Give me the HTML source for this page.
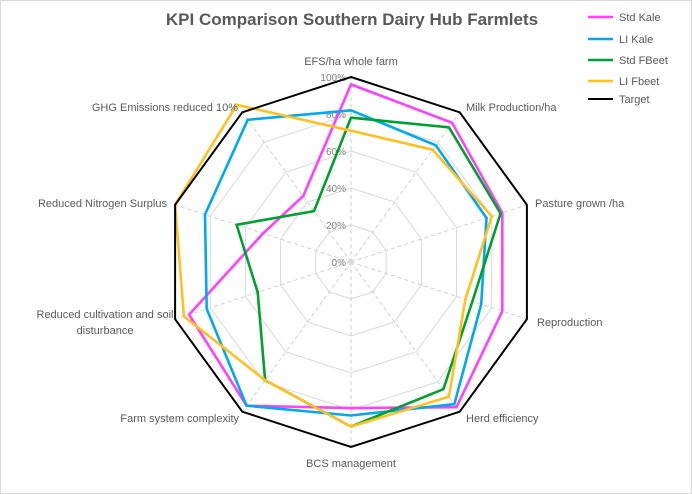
<!DOCTYPE html>
<html><head><meta charset="utf-8"><style>
body{margin:0;background:#fff}
svg{display:block;font-family:"Liberation Sans",sans-serif}
</style></head><body>
<svg width="692" height="494" viewBox="0 0 692 494" xmlns="http://www.w3.org/2000/svg">
<rect x="0.5" y="0.5" width="691" height="493" fill="#fff" stroke="#d9d9d9"/>
<text x="352" y="25" font-size="17" font-weight="bold" fill="#595959" text-anchor="middle">KPI Comparison Southern Dairy Hub Farmlets</text>
<g id="grid" fill="none" stroke="#d9d9d9" stroke-width="1"></g>
<g id="spokes" stroke="#d0d0d0" stroke-dasharray="4,3" stroke-width="1"></g>
<g font-size="10" fill="#808080" text-anchor="end">
<text x="346" y="266">0%</text><text x="346" y="229">20%</text><text x="346" y="192">40%</text><text x="346" y="155">60%</text><text x="346" y="118">80%</text><text x="346" y="81">100%</text>
</g>
<circle cx="351" cy="262" r="2.5" fill="#d9d9d9"/>
<g id="series" fill="none" stroke-width="2.6" stroke-linejoin="miter"></g>
<g font-size="11" fill="#595959">
<text x="351" y="65" text-anchor="middle">EFS/ha whole farm</text>
<text x="466" y="111">Milk Production/ha</text>
<text x="535" y="207">Pasture grown /ha</text>
<text x="537" y="326">Reproduction</text>
<text x="466" y="422">Herd efficiency</text>
<text x="351" y="467" text-anchor="middle">BCS management</text>
<text x="239" y="422" text-anchor="end">Farm system complexity</text>
<text x="105" y="318" text-anchor="middle">Reduced cultivation and soil</text>
<text x="105" y="334" text-anchor="middle">disturbance</text>
<text x="167" y="207" text-anchor="end">Reduced Nitrogen Surplus</text>
<text x="238" y="111" text-anchor="end">GHG Emissions reduced 10%</text>
</g>
<g font-size="11" fill="#595959">
<line x1="588" y1="17" x2="613" y2="17" stroke="#ff40ff" stroke-width="2.6"/><text x="619" y="21">Std Kale</text>
<line x1="588" y1="39" x2="613" y2="39" stroke="#00a8f0" stroke-width="2.6"/><text x="619" y="43">LI Kale</text>
<line x1="588" y1="60" x2="613" y2="60" stroke="#00a030" stroke-width="2.6"/><text x="619" y="64">Std FBeet</text>
<line x1="588" y1="81" x2="613" y2="81" stroke="#ffc020" stroke-width="2.6"/><text x="619" y="85">LI Fbeet</text>
<line x1="588" y1="99" x2="613" y2="99" stroke="#000" stroke-width="2"/><text x="619" y="103">Target</text>
</g>
<script>
var cx=351,cy=262,R=185,NS="http://www.w3.org/2000/svg";
function pts(v){return v.map(function(r,i){var a=i*Math.PI/5;return (cx+R*r*Math.sin(a)).toFixed(1)+","+(cy-R*r*Math.cos(a)).toFixed(1)}).join(" ");}
var g=document.getElementById("grid");
[0.2,0.4,0.6,0.8].forEach(function(r){var p=document.createElementNS(NS,"polygon");p.setAttribute("points",pts(Array(10).fill(r)));g.appendChild(p);});
var s=document.getElementById("spokes");
for(var i=0;i<10;i++){var a=i*Math.PI/5,l=document.createElementNS(NS,"line");l.setAttribute("x1",cx);l.setAttribute("y1",cy);l.setAttribute("x2",cx+R*Math.sin(a));l.setAttribute("y2",cy-R*Math.cos(a));s.appendChild(l);}
var data=[
["#ff40ff",[0.96,0.93,0.86,0.86,0.97,0.79,0.96,0.92,0.5,0.44]],
["#00a8f0",[0.82,0.78,0.77,0.74,0.95,0.83,0.96,0.82,0.83,0.95]],
["#00a030",[0.78,0.90,0.85,0.69,0.85,0.89,0.79,0.53,0.65,0.34]],
["#ffc020",[0.71,0.75,0.80,0.65,0.90,0.89,0.79,0.95,1.0,1.05]],
["#000000",[1,1,1,1,1,1,1,1,1,1]]];
var sg=document.getElementById("series");
data.forEach(function(d){var p=document.createElementNS(NS,"polygon");p.setAttribute("points",pts(d[1]));p.setAttribute("stroke",d[0]);if(d[0]=="#000000")p.setAttribute("stroke-width","2");sg.appendChild(p);});
</script>
</svg>
</body></html>
